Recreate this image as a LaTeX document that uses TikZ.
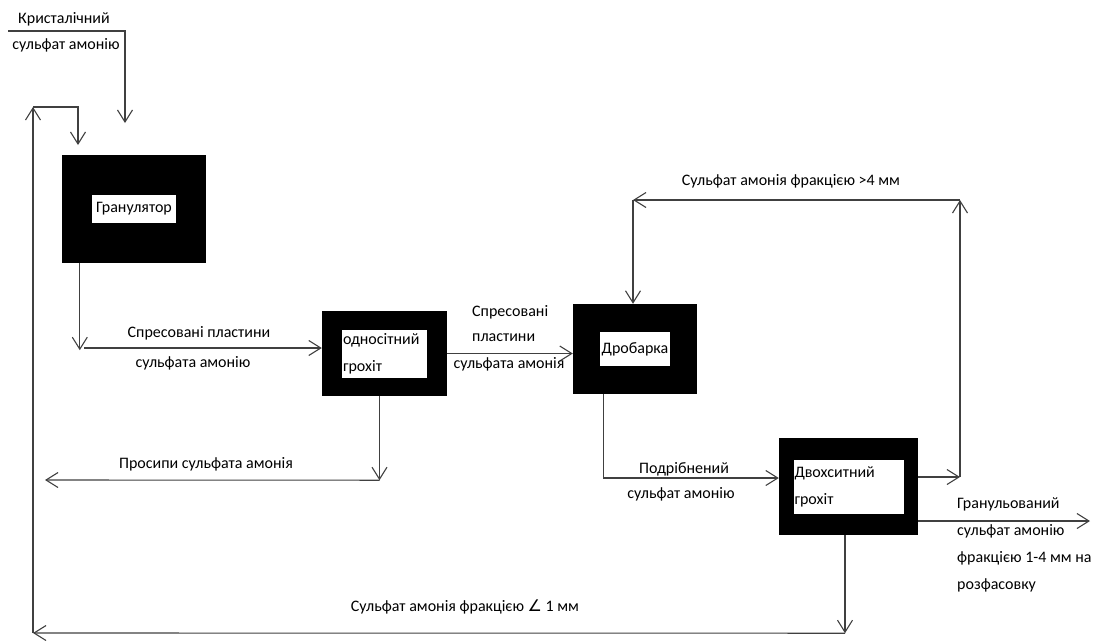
\documentclass[tikz,border=0pt]{standalone}
\usepackage{fontspec}
\setmainfont{Carlito}
\newfontfamily\symfont{DejaVu Sans}
\usetikzlibrary{arrows.meta}
\tikzset{
  flow/.style={draw=black!75, line width=1.1pt, -{Straight Barb[length=12pt,width=15pt]}},
  line/.style={draw=black!75, line width=1.1pt},
  unit/.style={fill=black, inner sep=0pt},
  tag/.style={fill=white, inner sep=1pt, align=left},
  txt/.style={inner sep=0pt, align=left},
}
\begin{document}
\begin{tikzpicture}[x=1pt,y=-1pt,font=\fontsize{16}{27}\selectfont]
    \useasboundingbox (0,0) rectangle (1097,641);
    \node[unit, minimum width=144pt, minimum height=108pt] (gran) at (134,209) {};
    \node[tag, minimum width=84pt, minimum height=28pt] (granlbl) at (gran) {Гранулятор};
    \node[unit, minimum width=125pt, minimum height=85pt] (sieve1) at (384.5,353.5) {};
    \node[tag, text width=83pt, minimum height=48pt] (sieve1lbl) at (sieve1) {односітний\\грохіт};
    \node[unit, minimum width=124pt, minimum height=90pt] (crusher) at (635,349) {};
    \node[tag, minimum width=70pt, minimum height=34pt] (crusherlbl) at (crusher) {Дробарка};
    \node[unit, minimum width=139pt, minimum height=97pt] (sieve2) at (848.5,486.5) {};
    \node[tag, text width=108pt, minimum height=54pt] (sieve2lbl) at (sieve2) {Двохситний\\грохіт};

    \coordinate (feedin) at (8,31);
    \coordinate (feedcorner) at (125,31);
    \draw[flow] (feedin) -- (feedcorner) -- (125,123);
    \node[txt] (feedtop) at (64,19) {Кристалічний};
    \node[txt] (feedbot) at (66,45) {сульфат амонію};

    \draw[flow] ([xshift=18pt]gran.south west) -- ++(0,87) coordinate (platedown);
    \draw[flow] (84,348) coordinate (platestart) -- (platestart -| sieve1.west);
    \node[txt] (plate1) at (199,333) {Спресовані пластини};
    \node[txt] (plate2) at (193,363) {сульфата амонію};

    \draw[flow] (sieve1.east) -- (sieve1.east -| crusher.west);
    \node[txt, anchor=west] (plate3) at (472,312) {Спресовані};
    \node[txt, anchor=west] (plate4) at (472,338) {пластини};
    \node[txt] (plate5) at (509,364) {сульфата амонія};

    \draw[flow] ([xshift=-5pt]sieve1.south) -- ++(0,84) coordinate (dustturn);
    \draw[flow] (dustturn) -- (45,480);
    \node[txt] (dust) at (206,464) {Просипи сульфата амонія};

    \draw[flow] ([xshift=31pt]crusher.south west) |- ([yshift=8.5pt]sieve2.west);
    \node[txt] (crushed1) at (684,469) {Подрібнений};
    \node[txt] (crushed2) at (681,494) {сульфат амонію};

    \draw[flow] ([yshift=9.5pt]sieve2.east) -- (960,477) coordinate (coarseturn);
    \draw[flow] (coarseturn) -- (960,200) coordinate (coarsetop);
    \draw[flow] (coarsetop) -- (633,200) coordinate (coarseleft);
    \draw[flow] (coarseleft) -- (coarseleft |- crusher.north);
    \node[txt] (coarse) at (791,181) {Сульфат амонія фракцією >4 мм};

    \draw[flow] ([yshift=-34.5pt]sieve2.east) -- (1090,521);
    \node[txt, anchor=north west] (product) at (957,497) {Гранульований\\сульфат амонію\\фракцією 1-4 мм на\\розфасовку};

    \draw[flow] ([xshift=-3.5pt]sieve2.south) -- ++(0,98) coordinate (fineturn);
    \draw[flow] (fineturn) -- (33,633) coordinate (finecorner);
    \draw[flow] (finecorner) -- (33,107) coordinate (loopcorner);
    \draw[flow] (loopcorner) -- (78,107) -- (78,145);
    \node[txt] (fine) at (465,607) {Сульфат амонія фракцією {\symfont ∠} 1 мм};
\end{tikzpicture}
\end{document}
